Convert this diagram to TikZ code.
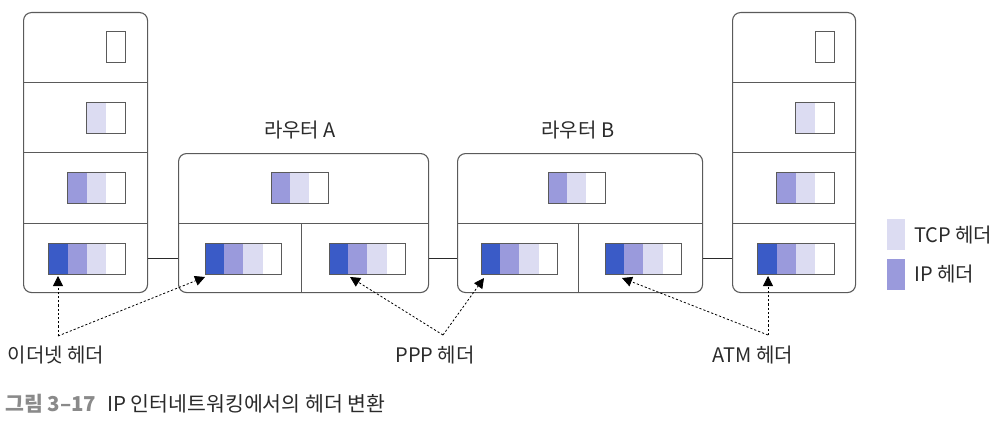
\documentclass[tikz,border=0pt]{standalone}
\usepackage{fontspec}
\setmainfont{Noto Sans CJK KR}
\usetikzlibrary{arrows.meta}
\definecolor{eth}{HTML}{3A5BC7}
\definecolor{ipc}{HTML}{9A9ADC}
\definecolor{tcpc}{HTML}{DCDCF2}
\definecolor{lineg}{HTML}{5A5A5A}
\definecolor{txt}{HTML}{2A2A2A}
\definecolor{capg}{HTML}{8A8A8A}
\newcommand\pk[4]{%
  \foreach \c [count=\i from 0] in {#4} {\fill[fill=\c] ({#1+\i*19.2},#2) rectangle ++(19.2,31);}
  \draw[pkline] (#1,#2) rectangle ++(#3,31);}
\begin{document}
\begin{tikzpicture}[x=1pt,y=-1pt,
  box/.style={draw=lineg, line width=1.1pt, rounded corners=8pt},
  div/.style={draw=lineg, line width=0.9pt},
  pkline/.style={draw=lineg, line width=0.9pt},
  link/.style={draw=txt, line width=0.9pt},
  ptr/.style={draw=black, line width=0.8pt, dash pattern=on 2.2pt off 2pt, -{Triangle[length=10pt,width=10pt]}},
  lbl/.style={text=txt, font=\fontsize{20}{22}\selectfont, inner sep=0pt}]
\useasboundingbox (0,0) rectangle (1003,420);
% left host
\node[box, minimum width=124pt, minimum height=280pt, anchor=north west, inner sep=0pt] (hl) at (23,12) {};
\draw[div] (23,82) -- (147,82) (23,152) -- (147,152) (23,223) -- (147,223);
\pk{106}{31}{19.2}{white}
\pk{86.8}{102}{38.4}{tcpc,white}
\pk{67.6}{172}{57.6}{ipc,tcpc,white}
\pk{48.4}{243}{76.8}{eth,ipc,tcpc,white}
% router A
\node[box, minimum width=250pt, minimum height=139pt, anchor=north west, inner sep=0pt] (ra) at (178,153) {};
\draw[div] (178,223) -- (428,223) (301,223) -- (301,292);
\node[lbl] (ral) at (300,130) {라우터 A};
\pk{271}{172}{57.6}{ipc,tcpc,white}
\pk{205}{243}{76.8}{eth,ipc,tcpc,white}
\pk{329}{243}{76.8}{eth,ipc,tcpc,white}
% router B
\node[box, minimum width=245pt, minimum height=139pt, anchor=north west, inner sep=0pt] (rb) at (457,153) {};
\draw[div] (457,223) -- (702,223) (578,223) -- (578,292);
\node[lbl] (rbl) at (578,130) {라우터 B};
\pk{548}{172}{57.6}{ipc,tcpc,white}
\pk{481}{243}{76.8}{eth,ipc,tcpc,white}
\pk{605}{243}{76.8}{eth,ipc,tcpc,white}
% right host
\node[box, minimum width=123pt, minimum height=280pt, anchor=north west, inner sep=0pt] (hr) at (732,12) {};
\draw[div] (732,82) -- (855,82) (732,152) -- (855,152) (732,223) -- (855,223);
\pk{815}{31}{19.2}{white}
\pk{795.8}{102}{38.4}{tcpc,white}
\pk{776.6}{172}{57.6}{ipc,tcpc,white}
\pk{757.4}{243}{76.8}{eth,ipc,tcpc,white}
% links
\draw[link] (hl.east |- 0,258) -- (ra.west |- 0,258);
\draw[link] (ra.east |- 0,258) -- (rb.west |- 0,258);
\draw[link] (rb.east |- 0,258) -- (hr.west |- 0,258);
% legend
\node[fill=tcpc, minimum width=18pt, minimum height=31pt, inner sep=0pt, anchor=north west] (lt) at (887,219) {};
\node[fill=ipc, minimum width=18pt, minimum height=31pt, inner sep=0pt, anchor=north west] (li) at (887,259) {};
\node[lbl, anchor=west] (ltt) at (914,235) {TCP 헤더};
\node[lbl, anchor=west] (lit) at (914,274) {IP 헤더};
% pointers
\coordinate (j1) at (58,336);
\coordinate (j2) at (443,335);
\coordinate (j3) at (768,335);
\coordinate (t1) at (58,276);
\coordinate (t2) at (205,277);
\coordinate (t3) at (350,277);
\coordinate (t4) at (484,278);
\coordinate (t5) at (622,278);
\coordinate (t6) at (768,276);
\draw[ptr] (j1) -- (t1);
\draw[ptr] (j1) -- (t2);
\draw[ptr] (j2) -- (t3);
\draw[ptr] (j2) -- (t4);
\draw[ptr] (j3) -- (t5);
\draw[ptr] (j3) -- (t6);
\node[lbl] (l1) at (56,355) {이더넷 헤더};
\node[lbl] (l2) at (435,355) {PPP 헤더};
\node[lbl] (l3) at (753,355) {ATM 헤더};
% caption
\node[anchor=west, inner sep=0pt, font=\fontsize{20.5}{22}\selectfont] (cap) at (5,404) {{\color{capg}\bfseries 그림 3–17}\hspace{11pt}{\color{txt}IP 인터네트워킹에서의 헤더 변환}};
\end{tikzpicture}
\end{document}
